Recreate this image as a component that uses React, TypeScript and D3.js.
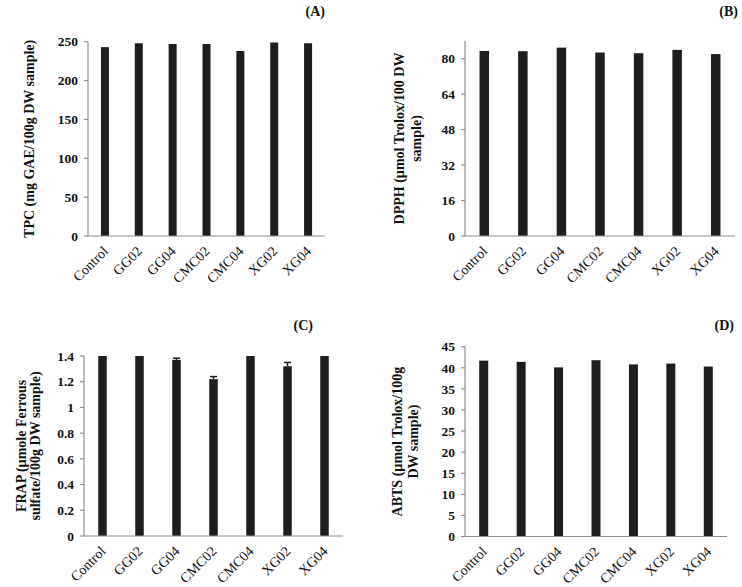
import React from "react";
import * as d3 from "d3";

const categories = ["Control", "GG02", "GG04", "CMC02", "CMC04", "XG02", "XG04"];
const tpcValues = [243, 248, 247, 247, 238, 249, 248];
const dpphValues = [83.5, 83.4, 85.0, 82.8, 82.5, 84.0, 82.1];
const frapValues = [1.4, 1.4, 1.37, 1.22, 1.4, 1.32, 1.4];
const frapErrors = [0, 0, 0.013, 0.02, 0, 0.03, 0];
const abtsValues = [41.7, 41.4, 40.1, 41.8, 40.8, 41.0, 40.3];

const tpcTicks = [0, 50, 100, 150, 200, 250];
const dpphTicks = [0, 16, 32, 48, 64, 80];
const frapTicks = [0, 0.2, 0.4, 0.6, 0.8, 1, 1.2, 1.4];
const abtsTicks = [0, 5, 10, 15, 20, 25, 30, 35, 40, 45];

const FONT = "'Liberation Serif', 'Times New Roman', serif";
const AXIS = "#8f8f8f";
const BAR = "#1e1e1e";
const TEXT = "#111";

type Cfg = {
  x0: number; x1: number; y0: number; yTop: number; max: number;
  ticks: number[]; barW: number; title: string[]; titleX: number[];
  label: string; labelX: number; labelY: number;
};

function Panel({ cfg, values, errs }: { cfg: Cfg; values: number[]; errs?: number[] }) {
  const x = d3.scaleBand<string>().domain(categories).range([cfg.x0, cfg.x1]);
  const y = d3.scaleLinear().domain([0, cfg.max]).range([cfg.y0, cfg.yTop]);
  const cy = (cfg.y0 + cfg.yTop) / 2;
  return (
    <g>
      {values.map((v, i) => {
        const cx = (x(categories[i]) as number) + x.bandwidth() / 2;
        return (
          <rect key={"b" + i} x={cx - cfg.barW / 2} y={y(v)} width={cfg.barW}
            height={y(0) - y(v)} fill={BAR} />
        );
      })}
      {errs && values.map((v, i) => {
        if (!errs[i]) return null;
        const cx = (x(categories[i]) as number) + x.bandwidth() / 2;
        return (
          <g key={"e" + i} stroke={BAR} strokeWidth={1.5}>
            <line x1={cx} x2={cx} y1={y(v)} y2={y(v + errs[i])} />
            <line x1={cx - 3.5} x2={cx + 3.5} y1={y(v + errs[i])} y2={y(v + errs[i])} />
          </g>
        );
      })}
      <line x1={cfg.x0} x2={cfg.x0} y1={y(0)} y2={y(cfg.max)} stroke={AXIS} strokeWidth={1.2} />
      <line x1={cfg.x0} x2={cfg.x1} y1={y(0)} y2={y(0)} stroke={AXIS} strokeWidth={1.2} />
      {cfg.ticks.map((t) => (
        <g key={"t" + t}>
          <line x1={cfg.x0 - 4} x2={cfg.x0} y1={y(t)} y2={y(t)} stroke={AXIS} strokeWidth={1.2} />
          <text x={cfg.x0 - 10} y={y(t)} dy="0.35em" textAnchor="end" fontFamily={FONT}
            fontSize={13.5} fontWeight="bold" fill={TEXT}>{String(t)}</text>
        </g>
      ))}
      {categories.map((c) => {
        const cx = (x(c) as number) + x.bandwidth() / 2;
        return (
          <text key={"c" + c} transform={`translate(${cx + 4},${y(0) + 16}) rotate(-45)`}
            textAnchor="end" fontFamily={FONT} fontSize={14} fill={TEXT}>{c}</text>
        );
      })}
      {cfg.title.map((line, i) => (
        <text key={"ti" + i} transform={`translate(${cfg.titleX[i]},${cy}) rotate(-90)`}
          textAnchor="middle" fontFamily={FONT} fontSize={14} fontWeight="bold" fill={TEXT}>{line}</text>
      ))}
      <text x={cfg.labelX} y={cfg.labelY} textAnchor="end" fontFamily={FONT} fontSize={14}
        fontWeight="bold" fill={TEXT}>{cfg.label}</text>
    </g>
  );
}

const cfgA: Cfg = {
  x0: 88, x1: 325, y0: 236, yTop: 41.7, max: 250, ticks: tpcTicks, barW: 8,
  title: ["TPC (mg GAE/100g DW sample)"], titleX: [34], label: "(A)", labelX: 325, labelY: 16,
};
const cfgB: Cfg = {
  x0: 465, x1: 735, y0: 236, yTop: 41, max: 88, ticks: dpphTicks, barW: 9.5,
  title: ["DPPH (µmol Trolox/100 DW", "sample)"], titleX: [404, 421], label: "(B)", labelX: 738, labelY: 16,
};
const cfgC: Cfg = {
  x0: 84, x1: 343, y0: 536, yTop: 356, max: 1.4, ticks: frapTicks, barW: 8.5,
  title: ["FRAP (µmole Ferrous", "sulfate/100g DW sample)"], titleX: [26, 40], label: "(C)", labelX: 313, labelY: 330,
};
const cfgD: Cfg = {
  x0: 465, x1: 727, y0: 536.5, yTop: 346.7, max: 45, ticks: abtsTicks, barW: 9,
  title: ["ABTS (µmol Trolox/100g", "DW sample)"], titleX: [402, 418], label: "(D)", labelX: 734, labelY: 330,
};

export default function App() {
  return (
    <svg width={742} height={587} style={{ position: "absolute", left: 0, top: 0, background: "#fff" }}>
      <rect width={742} height={587} fill="#fff" />
      <Panel cfg={cfgA} values={tpcValues} />
      <Panel cfg={cfgB} values={dpphValues} />
      <Panel cfg={cfgC} values={frapValues} errs={frapErrors} />
      <Panel cfg={cfgD} values={abtsValues} />
    </svg>
  );
}
